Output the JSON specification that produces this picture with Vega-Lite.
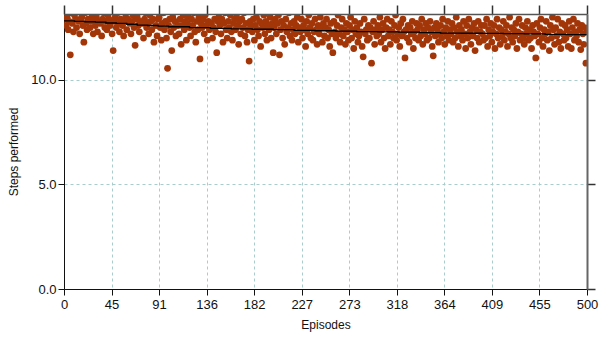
{
  "$schema": "https://vega.github.io/schema/vega-lite/v6.json",
  "width": 523,
  "height": 275,
  "autosize": {"type": "none"},
  "padding": {"left": 64, "top": 14, "right": 16, "bottom": 54},
  "background": "white",
  "config": {
    "view": {"stroke": null},
    "font": "Liberation Sans",
    "axis": {"labelFont": "Liberation Sans", "titleFont": "Liberation Sans", "labelColor": "#111", "titleColor": "#111"}
  },
  "datasets": {
    "pts": [
      12.9,13.3,12.6,13.0,12.4,12.8,11.2,13.2,12.7,12.3,
      13.1,12.9,12.5,13.4,12.8,12.2,12.9,13.0,12.6,11.8,
      13.2,12.7,12.4,12.9,13.3,12.5,12.8,13.1,12.2,12.9,
      12.6,13.0,12.3,12.8,13.5,12.7,12.1,12.9,13.2,12.5,
      12.8,12.4,13.1,12.9,12.6,13.3,12.2,11.4,12.8,13.0,
      12.5,13.2,12.7,12.3,12.9,13.4,12.6,12.1,12.8,13.0,
      12.4,12.9,13.3,12.7,12.2,12.8,13.1,12.5,11.65,12.9,
      13.0,12.6,12.3,12.8,13.4,12.7,12.0,12.9,13.2,12.5,
      12.7,12.2,13.1,12.8,12.4,12.9,11.8,13.3,12.6,12.1,
      12.9,13.0,12.5,11.9,12.7,13.2,12.4,12.8,12.0,10.55,
      12.6,12.9,12.3,11.4,13.0,12.5,12.8,12.1,13.3,12.6,
      12.2,12.9,11.7,12.6,13.1,12.4,12.8,11.9,12.7,13.0,
      12.5,12.1,12.9,12.6,13.2,12.3,11.8,12.8,12.4,13.0,
      11.0,12.7,12.5,12.9,12.2,13.1,12.6,11.9,12.8,12.4,
      13.3,12.7,12.0,12.5,12.9,12.3,11.3,12.8,13.0,12.6,
      12.2,12.9,11.8,12.7,13.2,12.4,12.0,12.8,12.5,13.1,
      12.3,11.9,12.7,12.9,12.4,13.0,12.6,11.7,12.8,12.2,
      12.9,12.5,13.2,12.1,12.7,11.8,12.4,10.9,12.8,12.6,
      12.3,12.9,11.9,12.6,13.0,12.4,12.1,12.8,11.6,12.7,
      12.5,13.1,12.2,12.8,11.9,12.6,12.4,13.0,12.0,12.7,
      11.3,12.5,12.9,12.2,12.7,13.1,11.2,12.4,12.8,12.0,
      12.6,11.7,12.9,12.3,12.5,13.2,12.1,12.7,11.9,12.4,
      12.8,12.2,12.6,13.0,11.8,12.5,12.3,12.9,12.0,12.6,
      12.4,11.6,12.8,12.2,13.1,12.5,12.0,12.7,11.9,12.3,
      12.9,12.4,11.7,12.6,12.2,13.0,12.5,11.8,12.7,12.1,
      12.5,12.9,12.0,12.4,11.6,12.7,12.2,11.3,12.8,12.3,
      12.0,12.6,13.1,12.2,11.8,12.5,12.9,12.1,12.4,11.7,
      12.7,12.3,11.9,12.6,13.0,12.0,12.4,11.5,12.8,12.2,
      12.5,11.8,12.1,12.7,12.3,11.6,11.1,12.9,12.2,12.4,
      11.9,12.6,12.0,12.5,10.8,12.3,12.8,11.7,12.4,12.1,
      12.6,12.2,13.0,11.8,12.4,12.7,12.0,11.5,12.5,12.9,
      12.1,12.4,11.7,12.8,12.3,12.0,12.6,13.1,11.9,12.2,
      12.5,11.6,12.7,12.1,12.9,12.3,11.05,12.4,12.0,12.6,
      11.8,12.5,12.2,12.8,11.5,12.3,12.0,12.7,12.4,11.9,
      12.6,12.1,12.9,11.7,12.4,12.2,12.7,11.9,12.5,12.0,
      12.8,12.3,11.6,11.15,12.5,12.1,12.7,12.4,11.8,12.2,
      12.6,12.0,12.9,12.3,11.7,12.5,12.1,12.8,11.9,12.4,
      12.2,12.7,11.8,12.5,12.0,13.0,12.3,11.6,12.6,12.1,
      12.4,11.9,12.8,12.2,11.5,12.6,12.0,12.9,12.3,11.7,
      12.5,12.1,12.7,11.4,12.4,12.0,12.8,11.8,12.3,12.6,
      12.2,11.9,12.6,12.0,12.9,11.6,12.4,12.1,12.7,11.8,
      12.3,12.6,11.5,12.2,12.9,12.0,12.5,11.7,12.4,12.1,
      12.8,11.9,12.3,12.6,11.6,12.2,13.0,12.0,12.5,11.8,
      12.4,12.1,12.7,11.5,12.3,12.9,11.9,12.2,12.6,12.0,
      11.7,12.5,12.2,12.8,11.9,12.4,12.0,11.5,12.6,12.3,
      12.1,11.05,12.7,12.2,11.8,12.5,12.9,12.0,11.6,12.4,
      12.2,12.8,11.9,12.3,11.4,12.6,12.0,13.0,12.4,11.7,
      12.5,12.1,12.9,11.8,12.3,11.5,12.7,12.2,11.9,12.6,
      12.0,12.4,11.6,12.8,12.2,11.5,12.5,12.9,11.9,12.3,
      12.1,12.7,11.8,12.4,11.45,12.6,12.2,11.7,12.5,10.8,
      12.3
    ],
    "trend": [
      {"e": 0, "s": 12.82}, {"e": 10, "s": 12.8}, {"e": 20, "s": 12.78}, {"e": 30, "s": 12.76},
      {"e": 40, "s": 12.72}, {"e": 50, "s": 12.7}, {"e": 60, "s": 12.66}, {"e": 70, "s": 12.62},
      {"e": 80, "s": 12.6}, {"e": 90, "s": 12.57}, {"e": 100, "s": 12.54}, {"e": 120, "s": 12.5},
      {"e": 140, "s": 12.46}, {"e": 160, "s": 12.44}, {"e": 180, "s": 12.42}, {"e": 200, "s": 12.4},
      {"e": 220, "s": 12.37}, {"e": 240, "s": 12.35}, {"e": 260, "s": 12.33}, {"e": 280, "s": 12.31},
      {"e": 300, "s": 12.3}, {"e": 320, "s": 12.28}, {"e": 340, "s": 12.26}, {"e": 360, "s": 12.24},
      {"e": 380, "s": 12.23}, {"e": 400, "s": 12.22}, {"e": 420, "s": 12.21}, {"e": 440, "s": 12.2},
      {"e": 460, "s": 12.18}, {"e": 480, "s": 12.16}, {"e": 500, "s": 12.15}
    ]
  },
  "resolve": {"axis": {"x": "independent", "y": "independent"}},
  "layer": [
    {
      "data": {"name": "pts"},
      "transform": [{"window": [{"op": "row_number", "as": "rn"}]}, {"calculate": "datum.rn - 1", "as": "e"}],
      "mark": {"type": "circle", "size": 46, "color": "#a33608", "opacity": 1, "clip": true},
      "encoding": {
        "x": {
          "field": "e", "type": "quantitative",
          "scale": {"domain": [0, 500], "nice": false, "zero": false},
          "axis": {
            "orient": "bottom", "title": "Episodes", "titleFontSize": 12, "titleFontWeight": "normal", "titlePadding": 8,
            "values": [0, 45.4545, 90.9091, 136.3636, 181.8182, 227.2727, 272.7273, 318.1818, 363.6364, 409.0909, 454.5455, 500],
            "format": ".0f", "labelFontSize": 13, "labelPadding": 3, "labelFlush": false, "labelOverlap": false,
            "tickSize": 6, "tickColor": "#111", "domainColor": "#111",
            "grid": true, "gridColor": "#a9cccc", "gridDash": [3, 3], "gridWidth": 1
          }
        },
        "y": {
          "field": "data", "type": "quantitative",
          "scale": {"domain": [0, 13.15], "nice": false},
          "axis": {
            "orient": "left", "title": "Steps performed", "titleFontSize": 12, "titleFontWeight": "normal", "titlePadding": 10,
            "values": [0, 5, 10], "format": ".1f", "labelFontSize": 13, "labelPadding": 2,
            "tickSize": 6, "tickColor": "#111", "domainColor": "#111",
            "grid": true, "gridColor": "#a9cccc", "gridDash": [3, 3], "gridWidth": 1
          }
        }
      }
    },
    {
      "data": {"name": "trend"},
      "mark": {"type": "line", "color": "#000000", "strokeWidth": 1.3, "interpolate": "step-after", "clip": true},
      "encoding": {
        "x": {
          "field": "e", "type": "quantitative",
          "axis": {
            "orient": "top", "title": null, "labels": false, "grid": false, "zindex": 1,
            "values": [0, 45.4545, 90.9091, 136.3636, 181.8182, 227.2727, 272.7273, 318.1818, 363.6364, 409.0909, 454.5455, 500],
            "tickSize": 9, "tickWidth": 1.5, "tickColor": "#333333", "domainColor": "#555555", "domainWidth": 1.5
          }
        },
        "y": {
          "field": "s", "type": "quantitative",
          "axis": {
            "orient": "right", "title": null, "labels": false, "grid": false, "zindex": 1,
            "values": [0, 5, 10], "tickSize": 8, "tickWidth": 1.5, "tickColor": "#333333", "domainColor": "#666666", "domainWidth": 2
          }
        }
      }
    }
  ]
}
